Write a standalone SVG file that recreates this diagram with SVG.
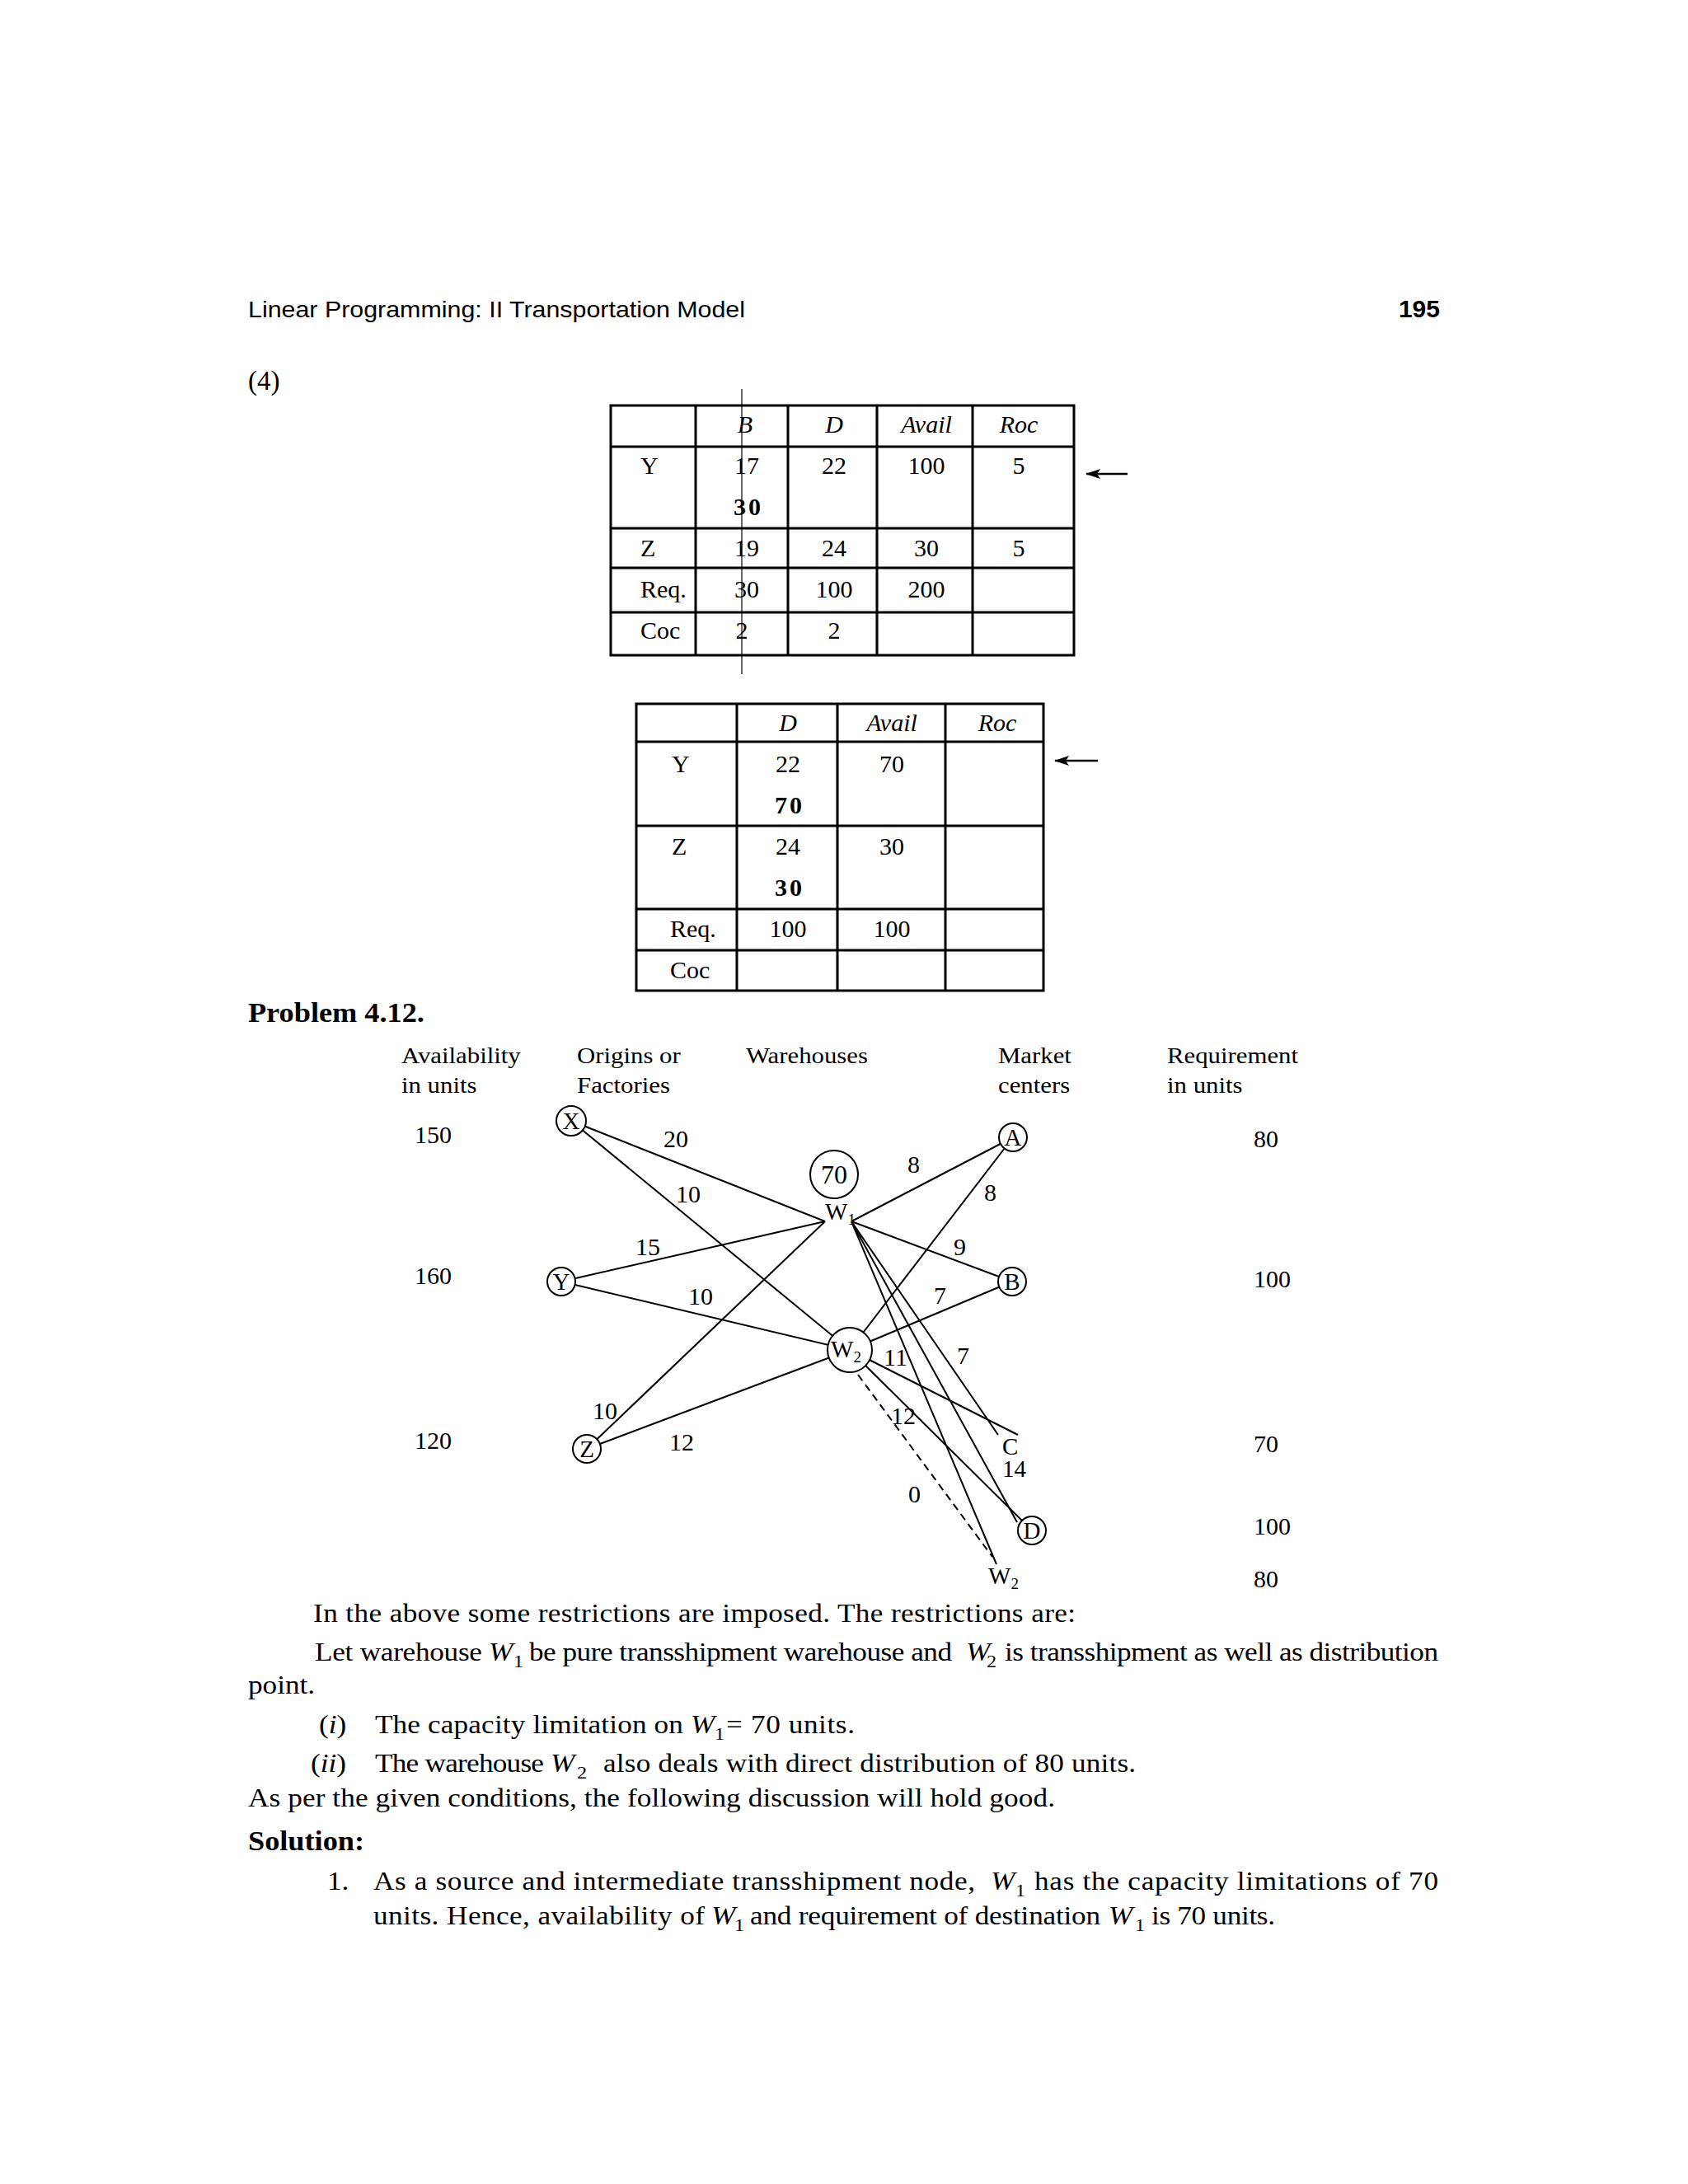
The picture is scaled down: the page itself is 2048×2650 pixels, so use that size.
<svg xmlns="http://www.w3.org/2000/svg" width="2048" height="2650" viewBox="0 0 2048 2650">
<style>
.s{font-family:"Liberation Serif","Times New Roman",serif;fill:#000}
.hd{font-family:"Liberation Sans",Arial,sans-serif;fill:#000}
.t{font-size:30px}
.b{font-size:32px}
.d{font-size:30px}
.c{text-anchor:middle}
.i{font-style:italic}
.bo{font-weight:bold}
.sub{font-size:22px}
.g{stroke:#000;stroke-width:3;fill:none}
.e{stroke:#000;stroke-width:2;fill:none}
.n{stroke:#000;stroke-width:2;fill:#fff}
.ar{stroke:#000;stroke-width:2.5}
</style>
<defs>
<marker id="ah" markerWidth="18" markerHeight="12" refX="17" refY="6" orient="auto" markerUnits="userSpaceOnUse">
<path d="M0,0 L18,6 L0,12 L4,6 Z" fill="#000"/>
</marker>
</defs>
<rect width="2048" height="2650" fill="#fff"/>

<!-- page header -->
<text class="hd" x="301" y="385" font-size="28" textLength="603" lengthAdjust="spacingAndGlyphs">Linear Programming: II Transportation Model</text>
<text class="hd" x="1747" y="385" font-size="30" font-weight="bold" text-anchor="end">195</text>
<text class="s" x="301" y="473" font-size="33">(4)</text>

<!-- table 1 -->
<g id="table1">
<rect class="g" x="741" y="492" width="562" height="303"/>
<path class="g" d="M844,492V795M956,492V795M1064,492V795M1180,492V795M741,542H1303M741,641H1303M741,689H1303M741,743H1303"/>
<line x1="900" y1="472" x2="900" y2="818" stroke="#000" stroke-width="1.2"/>
<g class="s t">
<text class="i c" x="904" y="525">B</text><text class="i c" x="1012" y="525">D</text><text class="i c" x="1124" y="525">Avail</text><text class="i c" x="1236" y="525">Roc</text>
<text x="777" y="575">Y</text><text class="c" x="906" y="575">17</text><text class="c" x="1012" y="575">22</text><text class="c" x="1124" y="575">100</text><text class="c" x="1236" y="575">5</text>
<text class="c bo" x="908" y="625" letter-spacing="3">30</text>
<text x="777" y="675">Z</text><text class="c" x="906" y="675">19</text><text class="c" x="1012" y="675">24</text><text class="c" x="1124" y="675">30</text><text class="c" x="1236" y="675">5</text>
<text x="777" y="725">Req.</text><text class="c" x="906" y="725">30</text><text class="c" x="1012" y="725">100</text><text class="c" x="1124" y="725">200</text>
<text x="777" y="775">Coc</text><text class="c" x="900" y="775">2</text><text class="c" x="1012" y="775">2</text>
</g>
<line class="ar" x1="1368" y1="575" x2="1318" y2="575" marker-end="url(#ah)"/>
</g>

<!-- table 2 -->
<g id="table2">
<rect class="g" x="772" y="854" width="494" height="348"/>
<path class="g" d="M894,854V1202M1016,854V1202M1147,854V1202M772,900H1266M772,1002H1266M772,1103H1266M772,1153H1266"/>
<g class="s t">
<text class="i c" x="956" y="887">D</text><text class="i c" x="1082" y="887">Avail</text><text class="i c" x="1210" y="887">Roc</text>
<text x="815" y="937">Y</text><text class="c" x="956" y="937">22</text><text class="c" x="1082" y="937">70</text>
<text class="c bo" x="958" y="987" letter-spacing="3">70</text>
<text x="815" y="1037">Z</text><text class="c" x="956" y="1037">24</text><text class="c" x="1082" y="1037">30</text>
<text class="c bo" x="958" y="1087" letter-spacing="3">30</text>
<text x="813" y="1137">Req.</text><text class="c" x="956" y="1137">100</text><text class="c" x="1082" y="1137">100</text>
<text x="813" y="1187">Coc</text>
</g>
<line class="ar" x1="1332" y1="923" x2="1280" y2="923" marker-end="url(#ah)"/>
</g>

<!-- horizontally set page text -->
<g class="s" transform="scale(1.1 1)">
<text class="bo" x="273.6" y="1240" font-size="33">Problem 4.12.</text>
<g font-size="28">
<text x="442.7" y="1290">Availability</text><text x="442.7" y="1326">in units</text>
<text x="636.4" y="1290">Origins or</text><text x="636.4" y="1326">Factories</text>
<text x="822.7" y="1290">Warehouses</text>
<text x="1100.9" y="1290">Market</text><text x="1100.9" y="1326">centers</text>
<text x="1287.3" y="1290">Requirement</text><text x="1287.3" y="1326">in units</text>
</g>
</g>

<g class="s d">
<text x="503" y="1387">150</text><text x="503" y="1558">160</text><text x="503" y="1758">120</text>
<text x="1521" y="1392">80</text><text x="1521" y="1562">100</text><text x="1521" y="1762">70</text><text x="1521" y="1862">100</text><text x="1521" y="1926">80</text>
</g>

<!-- connectors -->
<g id="connectors">
<path class="e" d="M693,1360L1001,1482M693,1360L1031,1638M681,1555L1001,1482M681,1555L1031,1638M712,1758L1001,1482M712,1758L1031,1638"/>
<path class="e" d="M1033,1482L1229,1380M1033,1482L1228,1555M1033,1482L1211,1741M1033,1482L1234,1847M1033,1482L1209,1898"/>
<path class="e" d="M1031,1638L1229,1380M1031,1638L1228,1555M1031,1638L1235,1741M1031,1638L1252,1857"/>
<path class="e" d="M1041,1668L1204,1889" stroke-dasharray="9,6"/>
<g class="s d">
<text x="805" y="1392">20</text><text x="820" y="1459">10</text>
<text x="771" y="1523">15</text><text x="835" y="1583">10</text>
<text x="719" y="1722">10</text><text x="812" y="1760">12</text>
<text x="1101" y="1423">8</text><text x="1194" y="1457">8</text>
<text x="1157" y="1523">9</text><text x="1133" y="1582">7</text>
<text x="1161" y="1655">7</text><text x="1072" y="1657">11</text>
<text x="1081" y="1728">12</text><text x="1102" y="1823">0</text>
</g>
</g>

<!-- nodes -->
<g class="s" font-size="29">
<g id="node-X"><circle class="n" cx="693" cy="1360" r="18"/><text class="c" x="693" y="1370">X</text></g>
<g id="node-Y"><circle class="n" cx="681" cy="1555" r="17"/><text class="c" x="681" y="1565">Y</text></g>
<g id="node-Z"><circle class="n" cx="712" cy="1758" r="17"/><text class="c" x="712" y="1768">Z</text></g>
<g id="node-W1"><circle class="n" cx="1012" cy="1425" r="29"/><text class="c" x="1012" y="1436" font-size="32">70</text><text x="1001" y="1480">W<tspan font-size="19" dy="6">1</tspan></text></g>
<g id="node-W2"><circle class="n" cx="1031" cy="1638" r="27"/><text x="1008" y="1647">W<tspan font-size="19" dy="6">2</tspan></text></g>
<g id="node-A"><circle class="n" cx="1229" cy="1380" r="17"/><text class="c" x="1229" y="1390">A</text></g>
<g id="node-B"><circle class="n" cx="1228" cy="1555" r="17"/><text class="c" x="1228" y="1565">B</text></g>
<g id="node-C"><text x="1216" y="1765">C</text><text x="1216" y="1792">14</text></g>
<g id="node-D"><circle class="n" cx="1252" cy="1857" r="17"/><text class="c" x="1252" y="1867">D</text></g>
<g id="node-W2b"><text x="1199" y="1922">W<tspan font-size="19" dy="6">2</tspan></text></g>
</g>

<!-- body text -->
<g class="s b" transform="scale(1.1 1)">
<text x="345.5" y="1968" textLength="840.9" lengthAdjust="spacing">In the above some restrictions are imposed. The restrictions are:</text>
<text x="347.3" y="2015" textLength="184.5" lengthAdjust="spacing">Let warehouse</text>
<text class="i" x="539.1" y="2015">W</text><text class="sub" x="566.4" y="2023">1</text>
<text x="583.6" y="2015" textLength="466.4" lengthAdjust="spacing">be pure transshipment warehouse and</text>
<text class="i" x="1065.5" y="2015">W</text><text class="sub" x="1088.2" y="2023">2</text>
<text x="1108.2" y="2015" textLength="478.2" lengthAdjust="spacing">is transshipment as well as distribution</text>
<text x="273.6" y="2055">point.</text>
<text x="351.8" y="2103">(<tspan class="i">i</tspan>)</text>
<text x="413.6" y="2103" textLength="340" lengthAdjust="spacing">The capacity limitation on</text>
<text class="i" x="761.8" y="2103">W</text><text class="sub" x="788.2" y="2111">1</text>
<text x="801" y="2103" textLength="141.7" lengthAdjust="spacing">= 70 units.</text>
<text x="342.7" y="2150">(<tspan class="i">ii</tspan>)</text>
<text x="413.6" y="2150" textLength="186.4" lengthAdjust="spacing">The warehouse</text>
<text class="i" x="607.3" y="2150">W</text><text class="sub" x="636.4" y="2158">2</text>
<text x="665.5" y="2150" textLength="587.3" lengthAdjust="spacing">also deals with direct distribution of 80 units.</text>
<text x="273.6" y="2192" textLength="890" lengthAdjust="spacing">As per the given conditions, the following discussion will hold good.</text>
<text class="bo" x="273.6" y="2245" font-size="33">Solution:</text>
<text x="360.9" y="2293">1.</text>
<text x="411.8" y="2293" textLength="663.6" lengthAdjust="spacing">As a source and intermediate transshipment node,</text>
<text class="i" x="1092.7" y="2293">W</text><text class="sub" x="1120" y="2301">1</text>
<text x="1140.9" y="2293" textLength="445.5" lengthAdjust="spacing">has the capacity limitations of 70</text>
<text x="411.8" y="2335" textLength="365.5" lengthAdjust="spacing">units. Hence, availability of</text>
<text class="i" x="784.5" y="2335">W</text><text class="sub" x="810" y="2343">1</text>
<text x="827.3" y="2335" textLength="386.4" lengthAdjust="spacing">and requirement of destination</text>
<text class="i" x="1222.7" y="2335">W</text><text class="sub" x="1251.8" y="2343">1</text>
<text x="1270" y="2335" textLength="136.4" lengthAdjust="spacing">is 70 units.</text>
</g>
</svg>
